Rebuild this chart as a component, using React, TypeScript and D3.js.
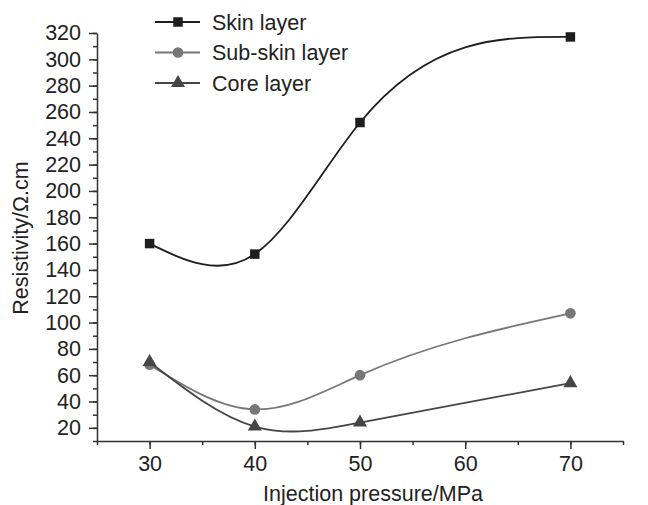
import * as d3 from "d3";
import { useEffect, useRef } from "react";

const pressure = [30, 40, 50, 70];
const skin = [160, 152, 252, 317];
const subSkin = [68, 34, 60, 107];
const core = [70, 21, 24, 54];
const seriesNames = ["Skin layer", "Sub-skin layer", "Core layer"];
const xTicks = [30, 40, 50, 60, 70];
const yTicks = d3.range(20, 321, 20);

const width = 648;
const height = 505;
const font = "Liberation Sans, Arial, Helvetica, sans-serif";
const fs = 21.5;

const series = [
  { name: seriesNames[0], values: skin, color: "#1e1e1e", symbol: d3.symbolSquare, size: 90 },
  { name: seriesNames[1], values: subSkin, color: "#777777", symbol: d3.symbolCircle, size: 90 },
  { name: seriesNames[2], values: core, color: "#454545", symbol: d3.symbolTriangle, size: 85 },
];

// natural cubic spline in x (like Origin's spline connector), drawn as bezier segments
const splinePath = (xs: number[], ys: number[], sx: any, sy: any) => {
  const n = xs.length;
  const h = d3.range(n - 1).map((i) => xs[i + 1] - xs[i]);
  const M = new Array(n).fill(0);
  // tridiagonal solve for second derivatives (natural ends)
  const a: number[] = [], b: number[] = [], c: number[] = [], r: number[] = [];
  for (let i = 1; i < n - 1; i++) {
    a.push(h[i - 1]);
    b.push(2 * (h[i - 1] + h[i]));
    c.push(h[i]);
    r.push(6 * ((ys[i + 1] - ys[i]) / h[i] - (ys[i] - ys[i - 1]) / h[i - 1]));
  }
  const m = r.length;
  for (let i = 1; i < m; i++) {
    const w = a[i] / b[i - 1];
    b[i] -= w * c[i - 1];
    r[i] -= w * r[i - 1];
  }
  for (let i = m - 1; i >= 0; i--) {
    M[i + 1] = (r[i] - (i < m - 1 ? c[i] * M[i + 2] : 0)) / b[i];
  }
  const p = d3.path();
  p.moveTo(sx(xs[0]), sy(ys[0]));
  for (let i = 0; i < n - 1; i++) {
    const d = (ys[i + 1] - ys[i]) / h[i];
    const s0 = d - (h[i] * (2 * M[i] + M[i + 1])) / 6;
    const s1 = d + (h[i] * (M[i] + 2 * M[i + 1])) / 6;
    p.bezierCurveTo(
      sx(xs[i] + h[i] / 3), sy(ys[i] + (s0 * h[i]) / 3),
      sx(xs[i + 1] - h[i] / 3), sy(ys[i + 1] - (s1 * h[i]) / 3),
      sx(xs[i + 1]), sy(ys[i + 1])
    );
  }
  return p.toString();
};

const App = () => {
  const gx = useRef(null);
  const gy = useRef(null);

  const x = d3.scaleLinear().domain([25, 75]).range([97, 623]);
  const y = d3.scaleLinear().domain([10, 320]).range([441, 33]);

  useEffect(() => {
    const g = d3.select(gx.current);
    g.selectAll("*").remove();
    g.append("g")
      .call(d3.axisBottom(x).tickValues(d3.range(25, 76, 5)).tickSize(4).tickFormat(() => ""))
      .call((a) => a.select(".domain").remove());
    g.append("g")
      .call(d3.axisBottom(x).tickValues(xTicks).tickSize(8).tickSizeOuter(0).tickPadding(7).tickFormat(d3.format("d")))
      .call((a) => a.selectAll("text").attr("font-size", fs).attr("font-family", font).attr("fill", "#222"));
    g.selectAll("line, path").attr("stroke", "#333").attr("stroke-width", 1.5);
  }, [x]);

  useEffect(() => {
    const g = d3.select(gy.current);
    g.selectAll("*").remove();
    g.append("g")
      .call(d3.axisLeft(y).tickValues(d3.range(10, 321, 10)).tickSize(4).tickFormat(() => ""))
      .call((a) => a.select(".domain").remove());
    g.append("g")
      .call(d3.axisLeft(y).tickValues(yTicks).tickSize(8).tickSizeOuter(0).tickPadding(8).tickFormat(d3.format("d")))
      .call((a) => a.selectAll("text").attr("font-size", fs).attr("font-family", font).attr("fill", "#222"));
    g.selectAll("line, path").attr("stroke", "#333").attr("stroke-width", 1.5);
  }, [y]);

  return (
    <svg
      width={width}
      height={height}
      viewBox={`0 0 ${width} ${height}`}
      style={{ position: "absolute", left: 0, top: 0, background: "#fff" }}
    >
      {series.map((s) => (
        <g key={s.name}>
          <path d={splinePath(pressure, s.values, x, y)} fill="none" stroke={s.color} strokeWidth={1.8} />
          {s.values.map((v, i) => (
            <path
              key={i}
              d={d3.symbol().type(s.symbol).size(s.size)() ?? ""}
              transform={`translate(${x(pressure[i])},${y(v)})`}
              fill={s.color}
            />
          ))}
        </g>
      ))}
      <g ref={gx} transform={`translate(0,441)`} />
      <g ref={gy} transform={`translate(97,0)`} />
      <text x={373} y={501} textAnchor="middle" fontSize={fs} fontFamily={font} fill="#222">
        Injection pressure/MPa
      </text>
      <text
        transform="translate(28,238) rotate(-90)"
        textAnchor="middle"
        fontSize={fs}
        fontFamily={font}
        fill="#222"
      >
        Resistivity/Ω.cm
      </text>
      {series.map((s, i) => {
        const ly = 22 + i * 30.5;
        return (
          <g key={s.name}>
            <line x1={155} x2={200} y1={ly} y2={ly} stroke={s.color} strokeWidth={1.8} />
            <path
              d={d3.symbol().type(s.symbol).size(s.size)() ?? ""}
              transform={`translate(178,${ly})`}
              fill={s.color}
            />
            <text x={212} y={ly + 7.5} fontSize={fs} fontFamily={font} fill="#222">
              {s.name}
            </text>
          </g>
        );
      })}
    </svg>
  );
};

export default App;
